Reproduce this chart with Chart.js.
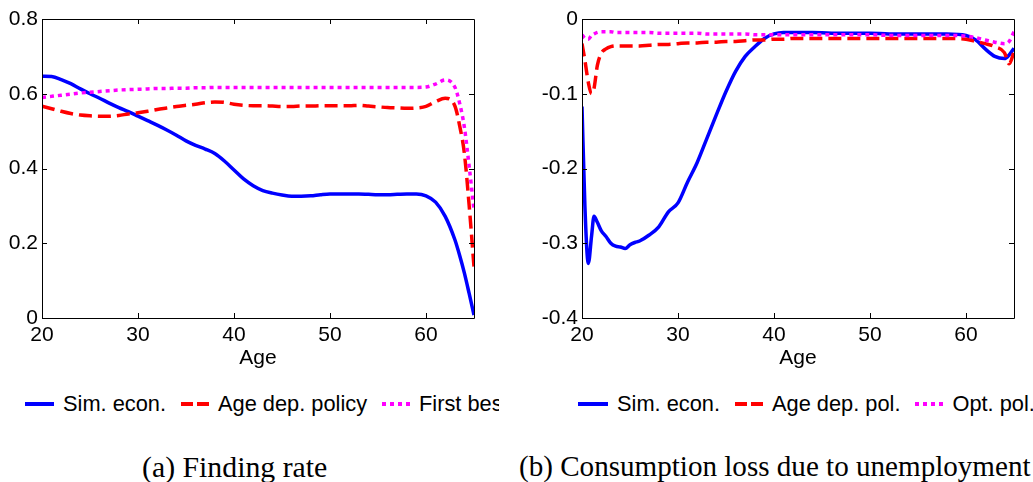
<!DOCTYPE html>
<html>
<head>
<meta charset="utf-8">
<script src="https://cdn.jsdelivr.net/npm/chart.js@4"></script>
<style>
  html, body { margin:0; padding:0; background:#fff; }
  body { width:1033px; height:482px; position:relative; overflow:hidden; font-family:"Liberation Sans", Arial, sans-serif; }
  .cv { position:absolute; top:0; }
  .legend { position:absolute; top:392px; height:24px; display:flex; align-items:center; white-space:nowrap; overflow:hidden;
            font-family:"Liberation Sans", Arial, sans-serif; font-size:21.8px; line-height:21.8px; color:#000; }
  .legend svg { flex:none; }
  .legend span { margin-left:9px; margin-right:15px; }
  .cap { position:absolute; top:452px; white-space:nowrap; text-align:left; font-family:"Liberation Serif", "Times New Roman", serif;
         line-height:29.5px; color:#000; }
</style>
</head>
<body>
<div class="cv" style="left:0;width:516px;height:380px;"><canvas id="c1"></canvas></div>
<div class="cv" style="left:516px;width:517px;height:380px;"><canvas id="c2"></canvas></div>

<div class="legend" style="left:25px;width:474px;">
  <svg width="29" height="6"><line x1="0" y1="3" x2="29" y2="3" stroke="#0000ff" stroke-width="4"/></svg><span>Sim. econ.</span>
  <svg width="28" height="6"><line x1="0" y1="3" x2="28" y2="3" stroke="#ff0000" stroke-width="4" stroke-dasharray="12 4"/></svg><span>Age dep. policy</span>
  <svg width="28" height="6"><line x1="0" y1="3" x2="28" y2="3" stroke="#ff00ff" stroke-width="4" stroke-dasharray="4 4"/></svg><span>First best</span>
</div>
<div class="legend" style="left:578px;width:455px;">
  <svg width="30" height="6"><line x1="0" y1="3" x2="30" y2="3" stroke="#0000ff" stroke-width="4"/></svg><span>Sim. econ.</span>
  <svg width="28" height="6"><line x1="0" y1="3" x2="28" y2="3" stroke="#ff0000" stroke-width="4" stroke-dasharray="12 4"/></svg><span>Age dep. pol.</span>
  <svg width="28" height="6"><line x1="0" y1="3" x2="28" y2="3" stroke="#ff00ff" stroke-width="4" stroke-dasharray="4 4"/></svg><span>Opt. pol.</span>
</div>

<div class="cap" style="left:142px;font-size:29.8px;">(a) Finding rate</div>
<div class="cap" style="left:519px;font-size:29.1px;">(b) Consumption loss due to unemployment</div>

<script>
// ---------- Data ----------
const xTicks = [20, 30, 40, 50, 60];
const yTicksA = [0, 0.2, 0.4, 0.6, 0.8];
const yTickLabelsA = ["0", "0.2", "0.4", "0.6", "0.8"];
const yTicksB = [-0.4, -0.3, -0.2, -0.1, 0];
const yTickLabelsB = ["-0.4", "-0.3", "-0.2", "-0.1", "0"];

const seriesNamesA = ["Sim. econ.", "Age dep. policy", "First best"];
const seriesNamesB = ["Sim. econ.", "Age dep. pol.", "Opt. pol."];

// (a) Finding rate
const agesA = [20,21,22,23,24,25,26,27,28,29,30,31,32,33,34,35,36,37,38,39,40,41,42,43,44,45,46,47,48,49,50,51,52,53,54,55,56,57,58,59,60,61,62,63,63.5,64,64.5,65];
const simA = [0.647,0.646,0.638,0.627,0.613,0.600,0.588,0.575,0.563,0.552,0.540,0.528,0.516,0.503,0.489,0.474,0.462,0.452,0.440,0.420,0.396,0.372,0.354,0.341,0.334,0.329,0.326,0.326,0.327,0.330,0.332,0.332,0.332,0.332,0.331,0.330,0.330,0.331,0.332,0.332,0.327,0.310,0.272,0.210,0.168,0.120,0.065,0.008];
const ageDepA = [0.567,0.560,0.553,0.547,0.543,0.541,0.540,0.540,0.542,0.546,0.549,0.553,0.558,0.562,0.566,0.569,0.572,0.576,0.578,0.577,0.572,0.569,0.568,0.568,0.567,0.566,0.566,0.567,0.567,0.568,0.568,0.568,0.568,0.569,0.567,0.565,0.563,0.562,0.561,0.562,0.566,0.579,0.588,0.568,0.515,0.440,0.300,0.137];
const firstBestA = [0.590,0.593,0.596,0.599,0.602,0.604,0.606,0.608,0.610,0.611,0.612,0.613,0.614,0.614,0.615,0.615,0.616,0.616,0.617,0.617,0.617,0.617,0.617,0.617,0.617,0.617,0.617,0.617,0.617,0.617,0.617,0.617,0.617,0.617,0.617,0.617,0.617,0.617,0.617,0.617,0.618,0.626,0.637,0.618,0.575,0.510,0.405,0.289];

// (b) Consumption loss due to unemployment
const agesB = [20,20.3,20.66,21,21.25,21.6,22,22.5,23,23.5,24,24.5,25,25.5,26,27,28,29,30,31,32,33,34,35,36,37,38,39,40,41,42,44,46,48,50,52,54,56,58,60,61,62,63,64,64.5,65];
const simB = [-0.117,-0.250,-0.327,-0.290,-0.264,-0.272,-0.283,-0.291,-0.300,-0.304,-0.305,-0.307,-0.302,-0.299,-0.297,-0.289,-0.278,-0.258,-0.246,-0.218,-0.192,-0.160,-0.128,-0.097,-0.070,-0.050,-0.037,-0.026,-0.020,-0.018,-0.018,-0.018,-0.019,-0.019,-0.019,-0.020,-0.020,-0.020,-0.020,-0.022,-0.028,-0.040,-0.050,-0.053,-0.048,-0.039];
const ageDepB = [-0.033,-0.055,-0.085,-0.100,-0.093,-0.062,-0.046,-0.040,-0.037,-0.036,-0.036,-0.036,-0.036,-0.036,-0.036,-0.035,-0.034,-0.034,-0.033,-0.032,-0.032,-0.031,-0.031,-0.030,-0.030,-0.029,-0.028,-0.028,-0.027,-0.027,-0.026,-0.026,-0.026,-0.026,-0.026,-0.026,-0.026,-0.026,-0.026,-0.027,-0.030,-0.033,-0.037,-0.045,-0.060,-0.044];
const optB = [-0.021,-0.026,-0.027,-0.022,-0.020,-0.018,-0.017,-0.017,-0.017,-0.018,-0.018,-0.018,-0.018,-0.018,-0.018,-0.018,-0.019,-0.019,-0.019,-0.019,-0.019,-0.020,-0.020,-0.020,-0.020,-0.020,-0.021,-0.021,-0.021,-0.021,-0.021,-0.021,-0.021,-0.021,-0.021,-0.022,-0.022,-0.022,-0.022,-0.023,-0.025,-0.028,-0.031,-0.033,-0.030,-0.017];

// ---------- Helpers ----------
const pts = (xs, ys) => xs.map((x, i) => ({x: x, y: ys[i]}));
const styles = [
  {color:'#0000ff', dash:[], order:3},
  {color:'#ff0000', dash:[13,6], order:2},
  {color:'#ff00ff', dash:[4,4], order:1}
];
function makeDatasets(names, xs, arrs) {
  return arrs.map((a, i) => ({
    label: names[i],
    data: pts(xs, a),
    borderColor: styles[i].color,
    borderDash: styles[i].dash,
    borderWidth: 3.5,
    pointRadius: 0,
    fill: false,
    order: styles[i].order,
    cubicInterpolationMode: 'monotone'
  }));
}

const boxPlugin = {
  id: 'boxTicks',
  afterDatasetsDraw(chart) {
    const {ctx, chartArea: a, scales} = chart;
    ctx.save();
    ctx.strokeStyle = '#000';
    ctx.lineWidth = 1;
    ctx.beginPath();
    ctx.rect(Math.round(a.left) + 0.5, Math.round(a.top) + 0.5, Math.round(a.right - a.left), Math.round(a.bottom - a.top));
    ctx.stroke();
    const L = 5;
    ctx.beginPath();
    scales.x.ticks.forEach(t => {
      const px = Math.round(scales.x.getPixelForValue(t.value)) + 0.5;
      ctx.moveTo(px, a.bottom); ctx.lineTo(px, a.bottom - L);
      ctx.moveTo(px, a.top); ctx.lineTo(px, a.top + L);
    });
    scales.y.ticks.forEach(t => {
      const py = Math.round(scales.y.getPixelForValue(t.value)) + 0.5;
      ctx.moveTo(a.left, py); ctx.lineTo(a.left + L, py);
      ctx.moveTo(a.right, py); ctx.lineTo(a.right - L, py);
    });
    ctx.stroke();
    ctx.restore();
  }
};

function makeChart(id, datasets, yMin, yMax, yVals, yLabels, yAxisWidth, padRight) {
  const font = {family: '"Liberation Sans", Arial, sans-serif', size: 21};
  return new Chart(document.getElementById(id), {
    type: 'line',
    data: {datasets: datasets},
    options: {
      responsive: true,
      maintainAspectRatio: false,
      animation: false,
      events: [],
      layout: {padding: {top: 19, right: padRight, left: 0, bottom: 0}},
      plugins: {legend: {display: false}, tooltip: {enabled: false}},
      scales: {
        x: {
          type: 'linear', min: 20, max: 65,
          grid: {display: false, drawTicks: false},
          border: {display: false},
          afterBuildTicks: s => { s.ticks = xTicks.map(v => ({value: v})); },
          afterFit: s => { s.height = 62; },
          ticks: {color: '#000', font: font, padding: 5, maxRotation: 0, autoSkip: false,
                  callback: v => String(v)},
          title: {display: true, text: 'Age', color: '#000', font: font, padding: {top: 0, bottom: 9}}
        },
        y: {
          type: 'linear', min: yMin, max: yMax,
          grid: {display: false, drawTicks: false},
          border: {display: false},
          afterBuildTicks: s => { s.ticks = yVals.map(v => ({value: v})); },
          afterFit: s => { s.width = yAxisWidth; },
          ticks: {color: '#000', font: font, padding: 4, autoSkip: false,
                  callback: v => { const i = yVals.findIndex(t => Math.abs(t - v) < 1e-9); return i >= 0 ? yLabels[i] : ''; }}
        }
      }
    },
    plugins: [boxPlugin]
  });
}

makeChart('c1', makeDatasets(seriesNamesA, agesA, [simA, ageDepA, firstBestA]), 0, 0.8, yTicksA, yTickLabelsA, 42, 42);
makeChart('c2', makeDatasets(seriesNamesB, agesB, [simB, ageDepB, optB]), -0.4, 0, yTicksB, yTickLabelsB, 66, 19);
</script>
</body>
</html>
